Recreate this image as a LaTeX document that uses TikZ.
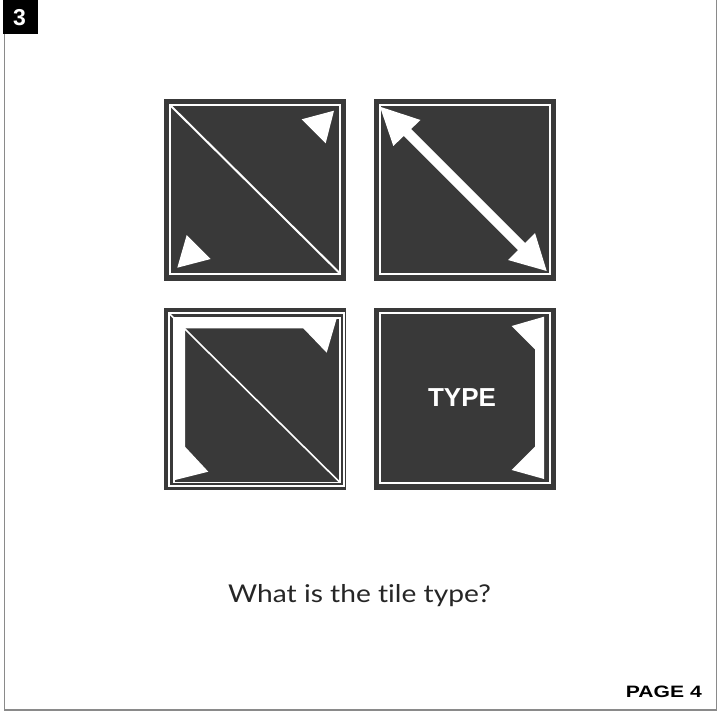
\documentclass[tikz,border=0pt]{standalone}
\usepackage{fontspec}
\usepackage{graphicx}
\setmainfont{Liberation Sans}
\newfontfamily\qfont[Ligatures=NoCommon]{Lato}
\definecolor{tilec}{HTML}{393939}
\definecolor{framec}{HTML}{8A8A8A}
\tikzset{
  tilebg/.style={fill=tilec},
  wline/.style={draw=white, line width=2pt},
  thinw/.style={draw=white, line width=1.6pt},
  wfill/.style={fill=white},
}
\begin{document}
\begin{tikzpicture}[x=1pt,y=-1pt]
\useasboundingbox (0,0) rectangle (719,711);
\fill[white] (0,0) rectangle (719,711);
% page frame
\draw[framec, line width=1.5pt] (4.7,-3) -- (4.7,710) -- (716.3,710) -- (716.3,-3);
% page number box
\fill[black] (3,-1) rectangle (38,34);
\node[text=white, font=\fontsize{23}{25}\selectfont\bfseries, anchor=base, inner sep=0pt] (num) at (19.5,25.2) {3};

% tile 1
\begin{scope}[shift={(164,99)}]
  \fill[tilebg] (0,0) rectangle (181.5,181.5);
  \draw[wline] (5.7,5.7) rectangle (176,174.5);
  \draw[wline] (5.7,5.7) -- (176,174.5);
  \fill[wfill] (137.7,20.3) -- (170,11.7) -- (161.7,44.3) -- cycle;
  \fill[wfill] (13.3,168.7) -- (22.7,136) -- (46.7,160) -- cycle;
\end{scope}

% tile 2
\begin{scope}[shift={(374,99)}]
  \fill[tilebg] (0,0) rectangle (181.5,181.5);
  \draw[wline] (5.7,5.7) rectangle (176,174.5);
  \draw[white, line width=10pt] (30,30) -- (150,150);
  \fill[wfill] (6,7.7) -- (46.5,21) -- (19.3,47) -- cycle;
  \fill[wfill] (172.7,172) -- (134,161) -- (161,134) -- cycle;
\end{scope}

% tile 3
\begin{scope}[shift={(164,308)}]
  \fill[tilebg] (0,0) rectangle (181.5,182);
  \draw[thinw] (4.7,5) rectangle (179.7,178);
  \draw[thinw] (9.7,9.7) rectangle (176,174.5);
  \draw[thinw] (4.7,5) -- (176,174.5);
  \fill[wfill] (11,10.3) -- (172.7,10.3) -- (162.7,44.7) -- (139.3,20.3) -- (21,20.3)
     -- (21,138.7) -- (44.3,163.7) -- (11,172) -- cycle;
\end{scope}

% tile 4
\begin{scope}[shift={(374,308)}]
  \fill[tilebg] (0,0) rectangle (181.5,182);
  \draw[wline] (5.7,5) rectangle (176.3,174.8);
  \fill[wfill] (170,8.7) -- (137.7,18) -- (161,41.3) -- (161,138.7) -- (137.7,162) -- (170,171) -- cycle;
  \node[text=white, font=\fontsize{26}{28}\selectfont\bfseries, anchor=base] (type) at (88,98) {TYPE};
\end{scope}

\node[font=\qfont\fontsize{24.5}{28}\selectfont, text=black!85, anchor=base] (question) at (359.5,602) {\scalebox{1.15}[1]{What is the tile type?}};
\node[font=\fontsize{16.5}{18}\selectfont\bfseries, anchor=base east, inner sep=0pt] (page) at (702,697) {\scalebox{1.28}[1]{PAGE 4}};
\end{tikzpicture}
\end{document}
